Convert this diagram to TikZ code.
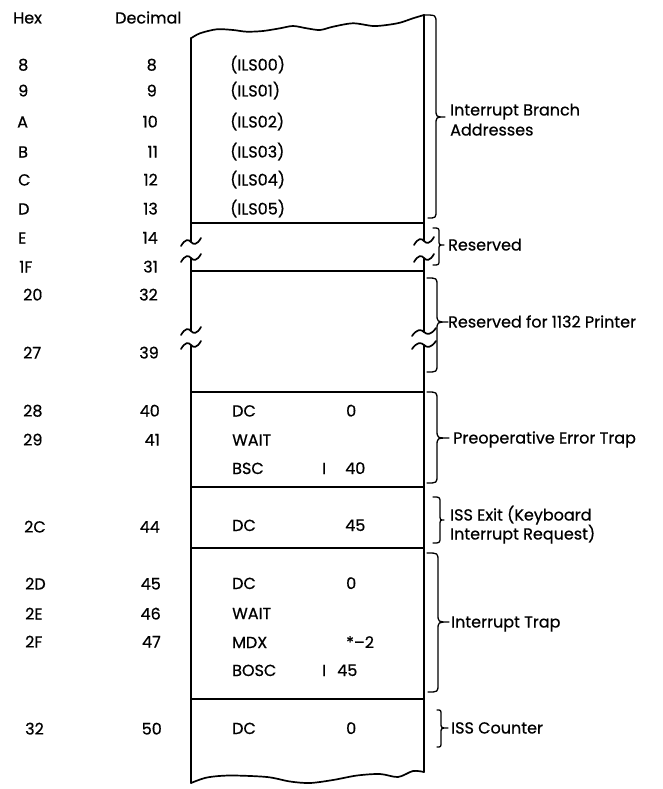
\documentclass[tikz,border=0pt]{standalone}
\usepackage{fontspec}
\setmainfont{Poppins}[FakeBold=0.6]
\newcommand\brkmark[3]{%
  \draw[edge] (#1-#3,#2+4) .. controls (#1-0.6*#3,#2-3) and (#1-0.25*#3,#2-3) .. (#1,#2)
     .. controls (#1+0.25*#3,#2+3) and (#1+0.6*#3,#2+3) .. (#1+#3,#2-4);}
\newcommand\bracepath[8]{%
  \draw[brc] (#1,#2) .. controls (#3,#2) .. (#3,#2+#8) -- (#3,#5-#8)
     .. controls (#3,#5) .. (#4,#5) .. controls (#3,#5) .. (#3,#5+#8)
     -- (#3,#7-#8) .. controls (#3,#7) .. (#6,#7);}
\begin{document}
\begin{tikzpicture}[x=1pt,y=-1pt,
  txt/.style={anchor=base west, inner sep=0pt, font=\fontsize{16}{19}\selectfont},
  num/.style={anchor=base east, inner sep=0pt, font=\fontsize{16}{19}\selectfont},
  edge/.style={line width=1.7pt, line cap=round},
  rule/.style={line width=1.5pt},
  brc/.style={line width=1.3pt, line cap=round, line join=round}]
\useasboundingbox[fill=white] (0,0) rectangle (663,789);

% header
\node[txt] (hhex) at (13,23.5) {Hex};
\node[txt] (hdec) at (115,23.5) {Decimal};

% hex column
\node[txt] (x8)  at (18,70.5)   {8};
\node[txt] (x9)  at (18,96.5)   {9};
\node[txt] (xA)  at (17,127.5)  {A};
\node[txt] (xB)  at (18,157.5)  {B};
\node[txt] (xC)  at (18,185.5)  {C};
\node[txt] (xD)  at (18,214.5)  {D};
\node[txt] (xE)  at (18,243.5)  {E};
\node[txt] (x1F) at (19,272.5)  {1F};
\node[txt] (x20) at (23,300.5)  {20};
\node[txt] (x27) at (23,358.5)  {27};
\node[txt] (x28) at (23,416.5)  {28};
\node[txt] (x29) at (23,445.5)  {29};
\node[txt] (x2C) at (24,532.5)  {2C};
\node[txt] (x2D) at (25,589.5)  {2D};
\node[txt] (x2E) at (25,619.5)  {2E};
\node[txt] (x2F) at (25,647.5)  {2F};
\node[txt] (x32) at (25,734.5)  {32};

% decimal column
\node[num] (d8)  at (157,70.5)  {8};
\node[num] (d9)  at (157,96.5)  {9};
\node[num] (d10) at (158,127.5) {10};
\node[num] (d11) at (158,157.5) {11};
\node[num] (d12) at (158,185.5) {12};
\node[num] (d13) at (158,214.5) {13};
\node[num] (d14) at (158,243.5) {14};
\node[num] (d31) at (158,272.5) {31};
\node[num] (d32) at (158,300.5) {32};
\node[num] (d39) at (159,358.5) {39};
\node[num] (d40) at (160,416.5) {40};
\node[num] (d41) at (160,445.5) {41};
\node[num] (d44) at (160,532.5) {44};
\node[num] (d45) at (161,589.5) {45};
\node[num] (d46) at (161,619.5) {46};
\node[num] (d47) at (161,647.5) {47};
\node[num] (d50) at (162,734.5) {50};

% box contents
\node[txt] (i0) at (230,70.5)  {(ILS00)};
\node[txt] (i1) at (230,96.5)  {(ILS01)};
\node[txt] (i2) at (230,127.5) {(ILS02)};
\node[txt] (i3) at (230,157.5) {(ILS03)};
\node[txt] (i4) at (230,185.5) {(ILS04)};
\node[txt] (i5) at (230,214.5) {(ILS05)};

\node[txt] (p1) at (232,416.5) {DC};
\node[txt] (p1v) at (346,416.5) {0};
\node[txt] (p2) at (232,445.5) {WAIT};
\node[txt] (p3) at (232,474) {BSC};
\node[txt] (p3i) at (322,474) {I};
\node[txt] (p3v) at (345,474) {40};

\node[txt] (e1) at (232,531) {DC};
\node[txt] (e1v) at (345,531) {45};

\node[txt] (t1) at (232,589) {DC};
\node[txt] (t1v) at (346,589) {0};
\node[txt] (t2) at (232,619) {WAIT};
\node[txt] (t3) at (232,648) {MDX};
\node[txt] (t3v) at (346,648) {*–2};
\node[txt] (t4) at (232,676) {BOSC};
\node[txt] (t4i) at (322,676) {I};
\node[txt] (t4v) at (337,676) {45};

\node[txt] (c1) at (232,734) {DC};
\node[txt] (c1v) at (346,734) {0};

% top torn edge
\draw[edge, line join=round] plot[smooth] coordinates {(191,38.3) (200,33.3) (216.7,29.3) (233,30)
  (246.7,31.7) (263,31) (280,28.3) (293,26) (306.7,28.3) (320,30) (333,26.7) (353,23.3)
  (373,26) (386.7,25) (400,22.7) (413,18.3) (424,15)};
% bottom torn edge
\draw[edge, line join=round] plot[smooth] coordinates {(191,783) (207,777.5) (230,775.5) (267,777)
  (290,781.5) (310,783) (333,780) (357,775.5) (380,774) (398,777) (413,771) (424,772)};

% left edge
\draw[edge] (191,38) -- (191,242);
\brkmark{191}{242}{10}
\brkmark{191}{258}{10}
\draw[edge] (191,258) -- (191,331);
\brkmark{191}{331}{10}
\brkmark{191}{345}{10}
\draw[edge] (191,345) -- (191,783);

% right edge
\draw[edge] (424,15) -- (424,241);
\brkmark{424}{241}{10}
\brkmark{424}{258}{10}
\draw[edge] (424,258) -- (424,332);
\brkmark{424}{332}{12}
\brkmark{424}{345}{12}
\draw[edge] (424,345) -- (424,772);

% row rules
\foreach \yy in {223,271,392,487,548,699}
  \draw[rule] (191,\yy) -- (424,\yy);

% braces
\bracepath{424}{15}{436}{445}{117}{428}{218}{8}
\bracepath{433}{228}{439}{444}{245}{433}{265}{5}
\bracepath{427}{278}{437}{448}{322}{427}{372}{8}
\bracepath{427}{392}{437}{449}{438}{427}{483}{8}
\bracepath{433}{497}{440}{444}{520}{433}{543}{6}
\bracepath{427}{553}{438}{449}{622}{428}{692}{8}
\bracepath{437}{710}{441}{448}{728}{437}{747}{5}

% labels
\node[txt] (l1a) at (450,115.5) {Interrupt Branch};
\node[txt] (l1b) at (450,135.5) {Addresses};
\node[txt] (l2)  at (448,250.5) {Reserved};
\node[txt] (l3)  at (448,327.5) {Reserved for 1132 Printer};
\node[txt] (l4)  at (453,443.5) {Preoperative Error Trap};
\node[txt] (l5a) at (450,520.5) {ISS Exit (Keyboard};
\node[txt] (l5b) at (450,539.5) {Interrupt Request)};
\node[txt] (l6)  at (451,627.5) {Interrupt Trap};
\node[txt] (l7)  at (451,733.5) {ISS Counter};
\end{tikzpicture}
\end{document}
